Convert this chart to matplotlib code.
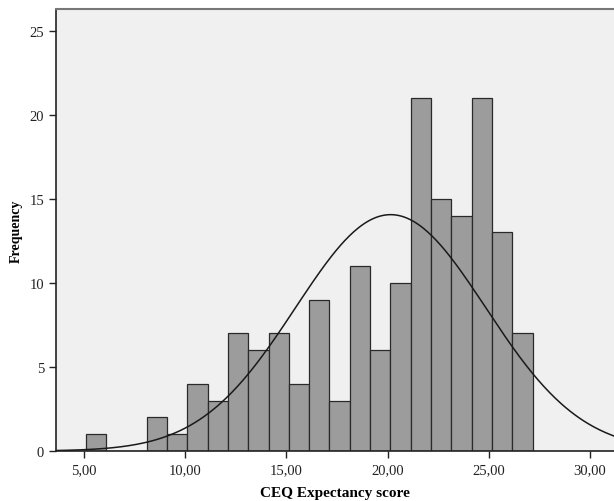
import matplotlib
matplotlib.use("Agg")
import matplotlib.pyplot as plt
import numpy as np
from matplotlib.ticker import FuncFormatter

# Histogram of CEQ Expectancy score (SPSS style) with fitted normal curve
bin_start = 5.08
bin_width = 1.004
counts = [1, 0, 0, 2, 1, 4, 3, 7, 6, 7, 4, 9, 3, 11, 6, 10, 21, 15, 14, 21, 13, 7]
score_mean = 20.15
score_sd = 4.70

x_ticks = [5, 10, 15, 20, 25, 30]
y_ticks = [0, 5, 10, 15, 20, 25]

plt.rcParams["font.family"] = ["Liberation Serif", "DejaVu Serif"]

fig = plt.figure(figsize=(6.14, 5.02), dpi=100)
ax = fig.add_axes([0.0912, 0.0996, 0.9088, 0.8806])
ax.set_facecolor("#f0f0f0")

edges = bin_start + bin_width * np.arange(len(counts))
ax.bar(edges, counts, width=bin_width, align="edge",
       color="#9c9c9c", edgecolor="#2a2a2a", linewidth=0.9, zorder=2)

n = sum(counts)
xs = np.linspace(3.0, 32.0, 400)
ys = n * bin_width / (score_sd * np.sqrt(2 * np.pi)) * np.exp(-0.5 * ((xs - score_mean) / score_sd) ** 2)
ax.plot(xs, ys, color="#1a1a1a", linewidth=1.1, zorder=3)

ax.set_xlim(3.61, 31.19)
ax.set_ylim(0, 26.3)
ax.set_xticks(x_ticks)
ax.set_yticks(y_ticks)
ax.xaxis.set_major_formatter(FuncFormatter(lambda v, p: f"{v:.2f}".replace(".", ",")))
ax.tick_params(direction="out", length=5, width=1, labelsize=10.5, colors="#222222")

for side in ["left", "bottom"]:
    ax.spines[side].set_color("#222222")
    ax.spines[side].set_linewidth(1.2)
ax.spines["top"].set_color("#777777")
ax.spines["top"].set_linewidth(1.5)
ax.spines["right"].set_visible(False)

ax.set_xlabel("CEQ Expectancy score", fontsize=11, fontweight="bold", labelpad=7)
ax.set_ylabel("Frequency", fontsize=10, fontweight="bold", labelpad=5)

fig.savefig("out.png", dpi=100)
